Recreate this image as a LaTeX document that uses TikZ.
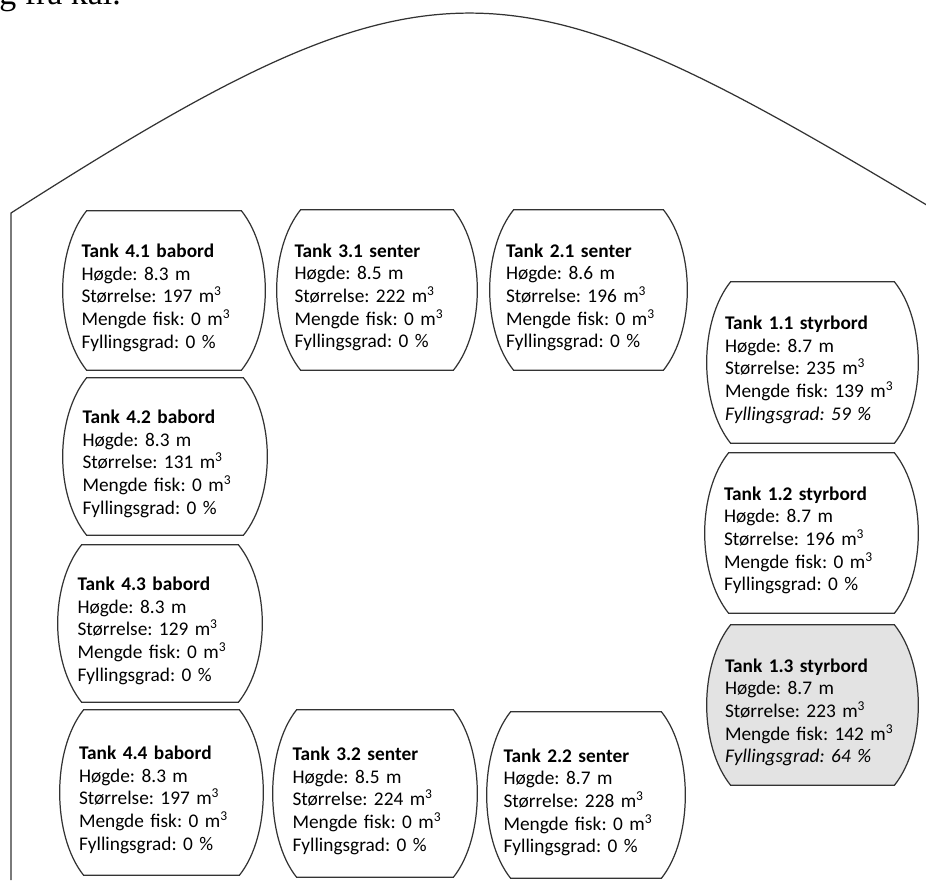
\documentclass[tikz,border=0pt]{standalone}
\usepackage{fontspec}
\setmainfont{Carlito}
\newfontfamily\kaifont{Liberation Serif}
\usetikzlibrary{backgrounds}
\frenchspacing

\begin{document}
\begin{tikzpicture}[x=0.02cm,y=-0.02cm,
  tank/.style={rectangle,inner sep=0pt,align=left,text width=3.3cm,font={\fontsize{11}{12.9}\selectfont},execute at begin node={\rule{0pt}{0.56cm}}},
  styr/.style={tank,text width=3.5cm},
  tankline/.style={draw=black!80,line width=0.7pt}]
\useasboundingbox (0,0) rectangle (926,880);
% hull and the cut line of text above it
\begin{scope}
\clip (0,0) rectangle (926,880);
\node[font={\kaifont\fontsize{19.3}{22}\selectfont},anchor=base west,inner sep=0pt] (kai) at (-1,4) {g fra kai.};
\draw[black!80,line width=0.7pt] (11,880) -- (11,213) .. controls (441,-62) and (510,-45) .. (940,213);
\end{scope}
% babord tanks
\node[tank,minimum width=4.04cm,minimum height=3.18cm] (t41) at (164,290.5) {\textbf{Tank 4.1 babord}\\Høgde: 8.3 m\\Størrelse: 197 m\textsuperscript{3}\\Mengde fisk: 0 m\textsuperscript{3}\\Fyllingsgrad: 0 \%};
\node[tank,minimum width=4.08cm,minimum height=3.14cm] (t42) at (165,456.5) {\textbf{Tank 4.2 babord}\\Høgde: 8.3 m\\Størrelse: 131 m\textsuperscript{3}\\Mengde fisk: 0 m\textsuperscript{3}\\Fyllingsgrad: 0 \%};
\node[tank,minimum width=4.08cm,minimum height=3.14cm] (t43) at (160,623.5) {\textbf{Tank 4.3 babord}\\Høgde: 8.3 m\\Størrelse: 129 m\textsuperscript{3}\\Mengde fisk: 0 m\textsuperscript{3}\\Fyllingsgrad: 0 \%};
\node[tank,minimum width=4.06cm,minimum height=3.30cm] (t44) at (161.5,792.5) {\textbf{Tank 4.4 babord}\\Høgde: 8.3 m\\Størrelse: 197 m\textsuperscript{3}\\Mengde fisk: 0 m\textsuperscript{3}\\Fyllingsgrad: 0 \%};
% senter tanks
\node[tank,minimum width=4.00cm,minimum height=3.20cm] (t31) at (377,290) {\textbf{Tank 3.1 senter}\\Høgde: 8.5 m\\Størrelse: 222 m\textsuperscript{3}\\Mengde fisk: 0 m\textsuperscript{3}\\Fyllingsgrad: 0 \%};
\node[tank,minimum width=4.08cm,minimum height=3.34cm] (t32) at (375,793.5) {\textbf{Tank 3.2 senter}\\Høgde: 8.5 m\\Størrelse: 224 m\textsuperscript{3}\\Mengde fisk: 0 m\textsuperscript{3}\\Fyllingsgrad: 0 \%};
\node[tank,minimum width=3.94cm,minimum height=3.20cm] (t21) at (588.5,290) {\textbf{Tank 2.1 senter}\\Høgde: 8.6 m\\Størrelse: 196 m\textsuperscript{3}\\Mengde fisk: 0 m\textsuperscript{3}\\Fyllingsgrad: 0 \%};
\node[tank,minimum width=3.96cm,minimum height=3.32cm] (t22) at (586,795) {\textbf{Tank 2.2 senter}\\Høgde: 8.7 m\\Størrelse: 228 m\textsuperscript{3}\\Mengde fisk: 0 m\textsuperscript{3}\\Fyllingsgrad: 0 \%};
% styrbord tanks
\node[styr,minimum width=4.22cm,minimum height=3.22cm] (t11) at (812.5,362.5) {\textbf{Tank 1.1 styrbord}\\Høgde: 8.7 m\\Størrelse: 235 m\textsuperscript{3}\\Mengde fisk: 139 m\textsuperscript{3}\\\textit{Fyllingsgrad: 59 \%}};
\node[styr,minimum width=4.26cm,minimum height=3.20cm] (t12) at (811.5,533) {\textbf{Tank 1.2 styrbord}\\Høgde: 8.7 m\\Størrelse: 196 m\textsuperscript{3}\\Mengde fisk: 0 m\textsuperscript{3}\\Fyllingsgrad: 0 \%};
\node[styr,minimum width=4.22cm,minimum height=3.20cm] (t13) at (812.5,705) {\textbf{Tank 1.3 styrbord}\\Høgde: 8.7 m\\Størrelse: 223 m\textsuperscript{3}\\Mengde fisk: 142 m\textsuperscript{3}\\\textit{Fyllingsgrad: 64 \%}};
% tank outlines, flat top and bottom with bulging sides
\begin{scope}[on background layer]
\foreach \t/\f in {t41/white,t42/white,t43/white,t44/white,t31/white,t32/white,t21/white,t22/white,t11/white,t12/white,t13/black!11}
  \draw[tankline,fill=\f] ([xshift=0.48cm]\t.north west) -- ([xshift=-0.48cm]\t.north east) .. controls +(32,40) and +(32,-40) .. ([xshift=-0.48cm]\t.south east) -- ([xshift=0.48cm]\t.south west) .. controls +(-32,-40) and +(-32,40) .. cycle;
\end{scope}
\end{tikzpicture}
\end{document}
